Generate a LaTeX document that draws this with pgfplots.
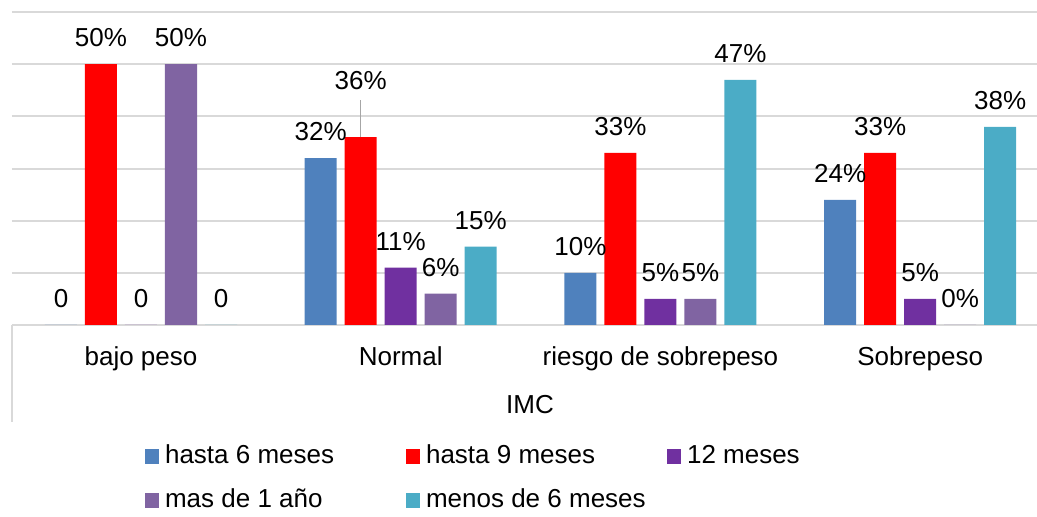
\documentclass[border=0pt]{standalone}
\usepackage{fontspec}
\setmainfont{Liberation Sans}
\usepackage{pgfplots}
\usepackage{pgfplotstable}
\pgfplotsset{compat=1.18}

\definecolor{cSeisM}{HTML}{4F81BD}
\definecolor{cNueveM}{HTML}{FF0000}
\definecolor{cDoceM}{HTML}{7030A0}
\definecolor{cMasAnio}{HTML}{8064A2}
\definecolor{cMenosSeis}{HTML}{4BACC6}
\definecolor{gridgray}{HTML}{D9D9D9}

\pgfplotsset{sqlegend/.style={legend image code/.code={\fill[##1,draw=none] (0pt,-3.5pt) rectangle (7pt,4pt);}}}

% x: IMC category (0 bajo peso, 1 Normal, 2 riesgo de sobrepeso, 3 Sobrepeso)
% y: percentage, dy: extra lift of the value label, lab: printed label
\pgfplotstableread{
x y dy lab
0 0  0 0
1 32 0 32\%
2 10 0 10\%
3 24 0 24\%
}\seisMeses
\pgfplotstableread{
x y dy lab
0 50 0  50\%
1 36 15 36\%
2 33 0  33\%
3 33 0  33\%
}\nueveMeses
\pgfplotstableread{
x y dy lab
0 0  0 0
1 11 0 11\%
2 5  0 5\%
3 5  0 5\%
}\doceMeses
\pgfplotstableread{
x y dy lab
0 50 0 50\%
1 6  0 6\%
2 5  0 5\%
3 0  0 0\%
}\masAnio
\pgfplotstableread{
x y dy lab
0 0  0 0
1 15 0 15\%
2 47 0 47\%
3 38 0 38\%
}\menosSeis

\begin{document}
\fontsize{13pt}{15.6pt}\selectfont
\begin{tikzpicture}
\begin{axis}[
  name=ax,
  at={(0,0)}, anchor=south west,
  width=512.5pt, height=156.5pt, scale only axis,
  xmin=-0.4967, xmax=3.450, ymin=0, ymax=60,
  clip=false,
  ybar=4pt, bar width=16pt,
  axis line style={draw=none},
  major tick length=0pt,
  ytick={0,10,...,60}, yticklabels={,,,,,,,},
  ymajorgrids, major grid style={color=gridgray, line width=1pt},
  xtick={0,1,2,3},
  xticklabels={bajo peso, Normal, riesgo de sobrepeso, Sobrepeso},
  xticklabel style={anchor=base, yshift=-20.5pt, font=\fontsize{13pt}{15.6pt}\selectfont},
  xlabel={IMC},
  xlabel style={at={(axis description cs:0.5054,0)}, anchor=base, yshift=-44.5pt, font=\fontsize{13pt}{15.6pt}\selectfont},
  point meta=explicit symbolic,
  visualization depends on={\thisrow{dy} \as \labdy},
  nodes near coords,
  nodes near coords style={font=\fontsize{13pt}{15.6pt}\selectfont, text=black, yshift={4pt+\labdy*1pt}},
  legend columns=3,
  legend cell align=left,
  legend style={at={(axis description cs:0.1298,0)}, anchor=north west, yshift=-59.5pt,
    draw=none, fill=none, inner sep=0pt, outer sep=0pt,
    font=\fontsize{13pt}{15.6pt}\selectfont,
    nodes={inner sep=0pt, text height=10pt, text depth=3pt},
    row sep=9pt,
    /tikz/every odd column/.append style={column sep=3pt}},
]
\addplot[fill=cSeisM, draw=none, sqlegend] table[x=x, y=y, meta=lab] {\seisMeses};
\addlegendentry{\makebox[120.5pt][l]{hasta 6 meses}}
\addplot[fill=cNueveM, draw=none, sqlegend] table[x=x, y=y, meta=lab] {\nueveMeses};
\addlegendentry{\makebox[120.5pt][l]{hasta 9 meses}}
\addplot[fill=cDoceM, draw=none, sqlegend] table[x=x, y=y, meta=lab] {\doceMeses};
\addlegendentry{\makebox[120.5pt][l]{12 meses}}
\addplot[fill=cMasAnio, draw=none, sqlegend] table[x=x, y=y, meta=lab] {\masAnio};
\addlegendentry{\makebox[120.5pt][l]{mas de 1 año}}
\addplot[fill=cMenosSeis, draw=none, sqlegend] table[x=x, y=y, meta=lab] {\menosSeis};
\addlegendentry{\makebox[120.5pt][l]{menos de 6 meses}}
% leader line of the lifted 36% label (second bar of the Normal group)
\draw[gray!70, line width=0.6pt] ([xshift=-20pt]axis cs:1,36) -- ([xshift=-20pt,yshift=18.5pt]axis cs:1,36);
\end{axis}
% category axis border below the plot
\draw[gridgray, line width=1pt] (ax.south west) -- ++(0,-48.5pt);
\pgfresetboundingbox
\path[use as bounding box] ([xshift=-6pt,yshift=-96pt]ax.south west) rectangle ([yshift=6pt]ax.north east);
\end{tikzpicture}
\end{document}
